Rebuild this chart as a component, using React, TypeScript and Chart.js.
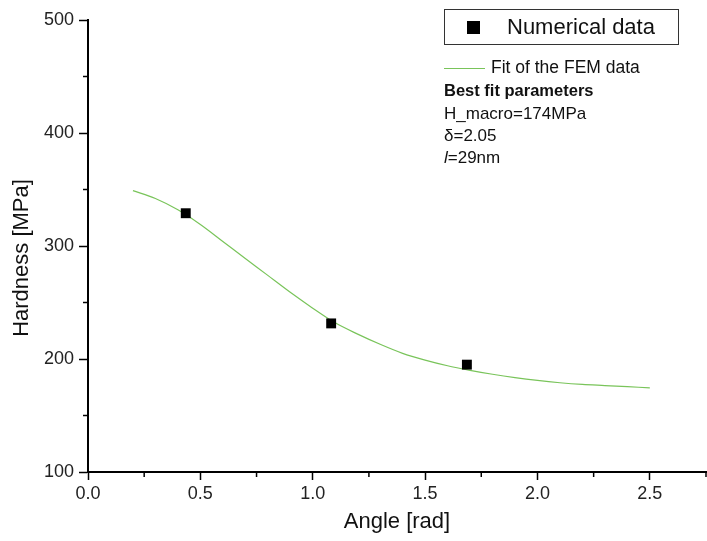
import React, { useEffect, useRef } from 'react';
import { Chart, registerables } from 'chart.js';

Chart.register(...registerables);

// ---- data ----
const pointAngles = [0.435, 1.082, 1.686];
const pointHardness = [329, 231.5, 195];

const fitAngles = [0.2, 0.3, 0.4, 0.5, 0.6, 0.7, 0.8, 0.9, 1.0, 1.1, 1.2, 1.3, 1.4, 1.5, 1.6, 1.7, 1.8, 1.9, 2.0, 2.1, 2.2, 2.3, 2.4, 2.5];
const fitHardness = [349, 342, 332, 319, 304, 289, 274, 259, 245, 232, 222, 213, 205, 199, 194, 190, 186.5, 183.5, 181, 179, 177.5, 176.5, 175.5, 174.5];

const xTickValues = [0, 0.5, 1.0, 1.5, 2.0, 2.5];
const xMinorTickValues = [0.25, 0.75, 1.25, 1.75, 2.25, 2.75];
const yTickValues = [100, 200, 300, 400, 500];
const yMinorTickValues = [150, 250, 350, 450];

const xTitle = 'Angle [rad]';
const yTitle = 'Hardness [MPa]';
const scatterLabel = 'Numerical data';
const fitLabel = 'Fit of the FEM data';
const paramsHeader = 'Best fit parameters';
const paramLines = ['H_macro=174MPa', 'δ=2.05'];
const lengthParam = ['l', '=29nm'];

const FONT = '"Liberation Sans", Arial, sans-serif';
const GREEN = '#79c45a';
const PLOT_RIGHT_GAP = 1;

const layoutFixPlugin = {
  id: 'layoutFix',
  afterLayout(chart: any) {
    const target = chart.width - PLOT_RIGHT_GAP;
    const a = chart.chartArea;
    if (Math.abs(a.right - target) > 0.5) {
      a.right = target;
      a.width = a.right - a.left;
      const x = chart.scales.x;
      x.right = target;
      x.width = x.right - x.left;
      x.configure();
      const y = chart.scales.y;
      y.configure();
    }
  },
};

const decorPlugin = {
  id: 'decor',
  afterDraw(chart: any) {
    const { ctx, chartArea: a, scales } = chart;
    const x = scales.x;
    const y = scales.y;
    ctx.save();
    // minor ticks
    ctx.strokeStyle = '#000';
    ctx.lineWidth = 1.5;
    xMinorTickValues.forEach((v) => {
      const px = x.getPixelForValue(v);
      ctx.beginPath();
      ctx.moveTo(px, a.bottom);
      ctx.lineTo(px, a.bottom + 5);
      ctx.stroke();
    });
    yMinorTickValues.forEach((v) => {
      const py = y.getPixelForValue(v);
      ctx.beginPath();
      ctx.moveTo(a.left, py);
      ctx.lineTo(a.left - 5, py);
      ctx.stroke();
    });

    // axis titles
    ctx.fillStyle = '#111';
    ctx.font = `22px ${FONT}`;
    ctx.textAlign = 'center';
    ctx.textBaseline = 'middle';
    ctx.fillText(xTitle, (a.left + a.right) / 2, a.bottom + 50);
    ctx.save();
    ctx.translate(22, (a.top + a.bottom) / 2 + 12);
    ctx.rotate(-Math.PI / 2);
    ctx.fillText(yTitle, 0, 0);
    ctx.restore();

    // legend box
    ctx.strokeStyle = '#333';
    ctx.lineWidth = 1;
    ctx.strokeRect(444.5, 9.5, 234, 35);
    ctx.fillStyle = '#000';
    ctx.fillRect(467, 21, 13, 13);
    ctx.fillStyle = '#111';
    ctx.textAlign = 'left';
    ctx.font = `22px ${FONT}`;
    ctx.fillText(scatterLabel, 507, 28);

    // fit legend line
    ctx.strokeStyle = GREEN;
    ctx.lineWidth = 1;
    ctx.beginPath();
    ctx.moveTo(444, 68.5);
    ctx.lineTo(485, 68.5);
    ctx.stroke();
    ctx.font = `17.5px ${FONT}`;
    ctx.fillText(fitLabel, 491, 68);

    // parameters
    ctx.font = `bold 16.5px ${FONT}`;
    ctx.fillText(paramsHeader, 444, 91);
    ctx.font = `17px ${FONT}`;
    paramLines.forEach((t, i) => ctx.fillText(t, 444, 114 + i * 22.5));
    ctx.font = `italic 17px ${FONT}`;
    ctx.fillText(lengthParam[0], 444, 158);
    const w = ctx.measureText(lengthParam[0]).width;
    ctx.font = `17px ${FONT}`;
    ctx.fillText(lengthParam[1], 444 + w, 158);
    ctx.restore();
  },
};

export default function App() {
  const canvasRef = useRef<HTMLCanvasElement | null>(null);

  useEffect(() => {
    const canvas = canvasRef.current;
    if (!canvas) return;
    const chart = new Chart(canvas, {
      type: 'scatter',
      data: {
        datasets: [
          {
            label: scatterLabel,
            data: pointAngles.map((v, i) => ({ x: v, y: pointHardness[i] })),
            backgroundColor: '#000',
            borderColor: '#000',
            pointStyle: 'rect',
            pointRadius: 7,
            borderWidth: 0,
            showLine: false,
          },
          {
            label: fitLabel,
            type: 'line',
            data: fitAngles.map((v, i) => ({ x: v, y: fitHardness[i] })),
            borderColor: GREEN,
            borderWidth: 1.2,
            pointRadius: 0,
            fill: false,
            cubicInterpolationMode: 'monotone',
          } as any,
        ],
      },
      options: {
        responsive: false,
        animation: false,
        layout: { padding: { top: 20, right: PLOT_RIGHT_GAP, left: 0, bottom: 0 } },
        plugins: {
          legend: { display: false },
          tooltip: { enabled: false },
        },
        scales: {
          x: {
            type: 'linear',
            min: 0,
            max: 2.75,
            afterBuildTicks: (scale: any) => {
              scale.ticks = xTickValues.map((v) => ({ value: v }));
            },
            afterFit: (scale: any) => {
              scale.height = 69;
            },
            grid: {
              display: true,
              drawOnChartArea: false,
              drawTicks: true,
              tickLength: 8,
              tickColor: '#000',
              tickWidth: 1.5,
            },
            border: { display: true, color: '#000', width: 2 },
            ticks: {
              padding: 3,
              color: '#222',
              font: { family: FONT, size: 18 },
              callback: (v: any) => Number(v).toFixed(1),
              maxRotation: 0,
            },
          },
          y: {
            type: 'linear',
            min: 100,
            max: 500,
            afterBuildTicks: (scale: any) => {
              scale.ticks = yTickValues.map((v) => ({ value: v }));
            },
            afterFit: (scale: any) => {
              scale.width = 88;
            },
            grid: {
              display: true,
              drawOnChartArea: false,
              drawTicks: true,
              tickLength: 9,
              tickColor: '#000',
              tickWidth: 1.5,
            },
            border: { display: true, color: '#000', width: 2 },
            ticks: {
              padding: 5,
              color: '#222',
              font: { family: FONT, size: 18 },
              callback: (v: any) => String(v),
            },
          },
        },
      },
      plugins: [layoutFixPlugin, decorPlugin],
    });
    return () => chart.destroy();
  }, []);

  return (
    <div style={{ position: 'absolute', left: 0, top: 0, width: 707, height: 541, background: '#fff' }}>
      <canvas ref={canvasRef} width={707} height={541} style={{ display: 'block' }} />
    </div>
  );
}
